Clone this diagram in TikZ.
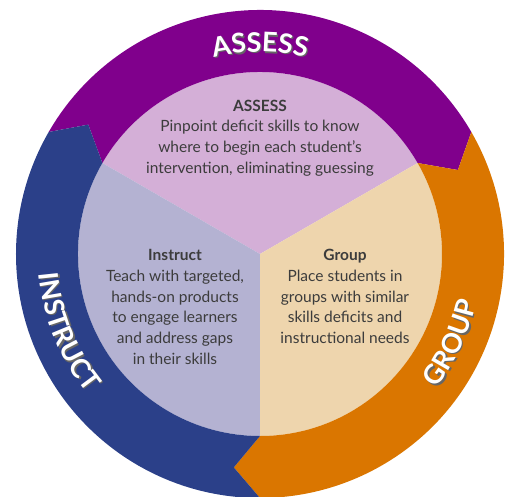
\documentclass[tikz,border=0pt]{standalone}
\usepackage{fontspec}
\setmainfont{Lato}
\usetikzlibrary{decorations.text}
\definecolor{ringpurple}{RGB}{128, 0, 140}
\definecolor{ringblue}{RGB}{43, 64, 137}
\definecolor{ringorange}{RGB}{218, 118, 0}
\definecolor{wedgepurple}{RGB}{212, 175, 215}
\definecolor{wedgeblue}{RGB}{180, 178, 210}
\definecolor{wedgetan}{RGB}{238, 213, 173}
\definecolor{bodygray}{RGB}{60, 60, 60}

\newcommand{\ringfont}{\bfseries\fontsize{27}{27}\selectfont}
% ring piece: colour, start angle, end angle (clockwise)
\newcommand{\ringseg}[3]{%
  \fill[#1] (#2:244) arc[start angle=#2, end angle=#3, radius=244] -- ({#3-7}:215) -- (#3:182)
    arc[start angle=#3, end angle=#2, radius=182] -- ({#2-7}:215) -- cycle;}

\tikzset{
  bodytext/.style={text=bodygray, font=\fontsize{15.5}{20.8}\selectfont, align=center, inner sep=0pt},
  ringlabel/.style={decorate, decoration={text along path, text align=center, text color=white, text={|\ringfont|#1}}},
  ringshadow/.style={decorate, decoration={text along path, text align=center, text color=black!60, text={|\ringfont|#1}}, xshift=1.3pt, yshift=-1.3pt},
}

\begin{document}
\begin{tikzpicture}[x=1pt, y=1pt]
  \useasboundingbox (-260,-242) rectangle (246,254);

  % ===== Inner wedges =====
  \fill[wedgepurple] (0,0) -- (30:182) arc[start angle=30, end angle=150, radius=182] -- cycle;
  \fill[wedgeblue] (0,0) -- (150:182) arc[start angle=150, end angle=270, radius=182] -- cycle;
  \fill[wedgetan] (0,0) -- (270:182) arc[start angle=270, end angle=390, radius=182] -- cycle;

  % ===== Outer ring =====
  \ringseg{ringpurple}{150}{30}
  \ringseg{ringorange}{30}{-90}
  \ringseg{ringblue}{270}{150}

  % Ring labels
  \path[ringshadow=ASSESS] (125:202) arc[start angle=125, end angle=55, radius=202];
  \path[ringlabel=ASSESS] (125:202) arc[start angle=125, end angle=55, radius=202];
  \path[ringshadow=INSTRUCT] (165:222) arc[start angle=165, end angle=239, radius=222];
  \path[ringlabel=INSTRUCT] (165:222) arc[start angle=165, end angle=239, radius=222];
  \path[ringshadow=GROUP] (300:222) arc[start angle=300, end angle=370, radius=222];
  \path[ringlabel=GROUP] (300:222) arc[start angle=300, end angle=370, radius=222];

  % ===== Texts =====
  \node[bodytext] (assesstext) at (0,116) {\textbf{ASSESS}\\Pinpoint deficit skills to know\\where to begin each student's\\intervention, eliminating guessing};
  \node[bodytext, anchor=north] (instructtext) at (-85,5) {\textbf{Instruct}\\Teach with targeted,\\hands-on products\\to engage learners\\and address gaps\\in their skills};
  \node[bodytext, anchor=north] (grouptext) at (85,5) {\textbf{Group}\\Place students in\\groups with similar\\skills deficits and\\instructional needs};
\end{tikzpicture}
\end{document}
